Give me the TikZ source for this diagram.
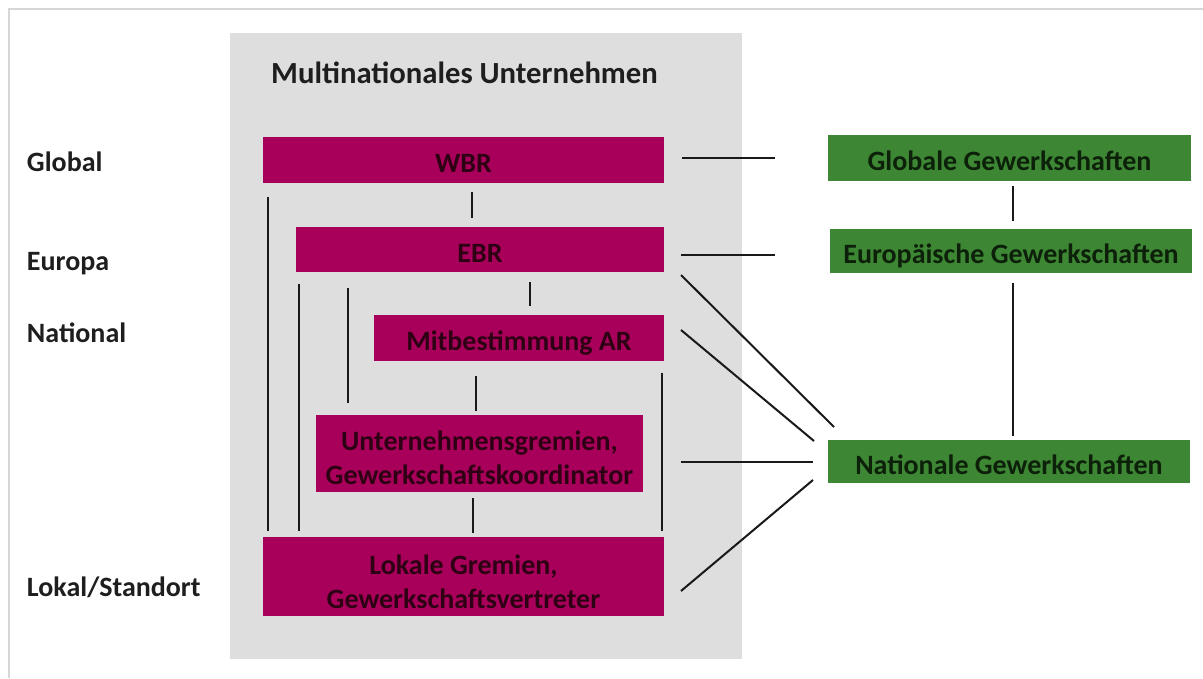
\documentclass[tikz,border=0pt]{standalone}
\usepackage{fontspec}
\setmainfont{Carlito}
\definecolor{mag}{RGB}{168,0,90}
\definecolor{grn}{RGB}{61,135,52}
\definecolor{panelgray}{RGB}{222,222,222}
\definecolor{framegray}{RGB}{214,214,214}
\definecolor{magtext}{RGB}{45,0,20}
\definecolor{grntext}{RGB}{12,32,10}
\definecolor{labtext}{RGB}{30,30,30}
\definecolor{linecol}{RGB}{25,25,25}
\begin{document}
\begin{tikzpicture}[x=1pt,y=-1pt,
  every node/.style={font=\fontsize{28}{34}\selectfont\bfseries, inner sep=0pt, outer sep=0pt},
  panel/.style={fill=panelgray, minimum width=512pt, minimum height=626pt},
  magbox/.style={fill=mag, text=magtext},
  grnbox/.style={fill=grn, text=grntext, text height=25pt, text depth=0pt},
  oneline/.style={text height=25pt, text depth=0pt},
  twoline/.style={align=center},
  levellabel/.style={anchor=base west, text=labtext},
  titletext/.style={anchor=base, text=labtext, font=\fontsize{30.7}{36}\selectfont\bfseries},
  conn/.style={draw=linecol, line width=2pt}]
\useasboundingbox (0,0) rectangle (1203,678);
\fill[white] (0,0) rectangle (1203,678);
\draw[framegray, line width=2pt] (9,678) -- (9,9) -- (1203,9);

% panel
\node[panel] (panel) at (486,346) {};
\node[titletext] (title) at (464.5,83) {Multinationales Unternehmen};

% level labels
\node[levellabel] (lglobal) at (27,171) {Global};
\node[levellabel] (leuropa) at (27,270) {Europa};
\node[levellabel] (lnational) at (27,342) {National};
\node[levellabel] (llokal) at (27,596) {Lokal/Standort};

% company boxes
\node[magbox, oneline, minimum width=401pt, minimum height=46pt] (wbr) at (463.5,160) {WBR};
\node[magbox, oneline, minimum width=368pt, minimum height=45pt] (ebr) at (480,249.5) {EBR};
\node[magbox, oneline, minimum width=290pt, minimum height=46pt] (mar) at (519,337.5) {Mitbestimmung AR};
\node[magbox, twoline, minimum width=327pt, minimum height=77pt] (ug) at (479.5,453.5) {\rule{0pt}{29pt}Unternehmensgremien,\\Gewerkschaftskoordinator};
\node[magbox, twoline, minimum width=401pt, minimum height=79pt] (lg) at (463.5,576.5) {\rule{0pt}{31pt}Lokale Gremien,\\Gewerkschaftsvertreter};

% union boxes
\node[grnbox, minimum width=363pt, minimum height=46pt] (gg) at (1009.5,158) {Globale Gewerkschaften};
\node[grnbox, minimum width=362pt, minimum height=44pt] (eg) at (1011,251) {Europäische Gewerkschaften};
\node[grnbox, minimum width=362pt, minimum height=43pt] (ng) at (1009,461.5) {Nationale Gewerkschaften};

% vertical connectors inside the company
\draw[conn, shorten <=9pt, shorten >=9pt] ([xshift=8.5pt]wbr.south) -- ([xshift=-8pt]ebr.north);
\draw[conn, shorten <=10pt, shorten >=9pt] ([xshift=50pt]ebr.south) -- ([xshift=11pt]mar.north);
\draw[conn, shorten <=15pt, shorten >=4pt] ([xshift=-43.5pt]mar.south) -- ([xshift=-4pt]ug.north);
\draw[conn, shorten <=6pt, shorten >=4pt] ([xshift=-6.5pt]ug.south) -- ([xshift=9.5pt]lg.north);
\draw[conn, shorten <=14pt, shorten >=6pt] ([xshift=-196pt]wbr.south) -- ([xshift=-196pt]lg.north);
\draw[conn, shorten <=12pt, shorten >=6pt] ([xshift=-181pt]ebr.south) -- ([xshift=-164.5pt]lg.north);
\draw[conn, shorten <=16pt, shorten >=12pt] ([xshift=-132pt]ebr.south) -- ([xshift=-131.5pt]ug.north);
\draw[conn, shorten <=12pt, shorten >=6pt] ([xshift=142.5pt]mar.south) -- ([xshift=198pt]lg.north);

% connectors to the unions
\draw[conn, shorten <=18pt, shorten >=53pt] ([yshift=2.5pt]wbr.east) -- ([yshift=0.5pt]gg.west);
\draw[conn, shorten <=17pt, shorten >=55pt] ([yshift=-5.5pt]ebr.east) -- ([yshift=-4pt]eg.west);
\draw[conn] ([xshift=17pt,yshift=-25.5pt]ebr.east) -- ([xshift=6pt,yshift=13pt]ng.north west);
\draw[conn] ([xshift=17pt,yshift=7.5pt]mar.east) -- ([xshift=-14pt,yshift=20.5pt]ng.west);
\draw[conn] ([xshift=38pt,yshift=-8.5pt]ug.east) -- ([xshift=-15pt,yshift=-0.5pt]ng.west);
\draw[conn] ([xshift=17pt,yshift=-14.5pt]lg.east) -- ([xshift=-15pt,yshift=-18.5pt]ng.west);

% union hierarchy
\draw[conn, shorten <=5pt, shorten >=8pt] ([xshift=3pt]gg.south) -- ([xshift=1.5pt]eg.north);
\draw[conn, shorten <=10pt, shorten >=4pt] ([xshift=1.5pt]eg.south) -- ([xshift=3.5pt]ng.north);
\end{tikzpicture}
\end{document}
